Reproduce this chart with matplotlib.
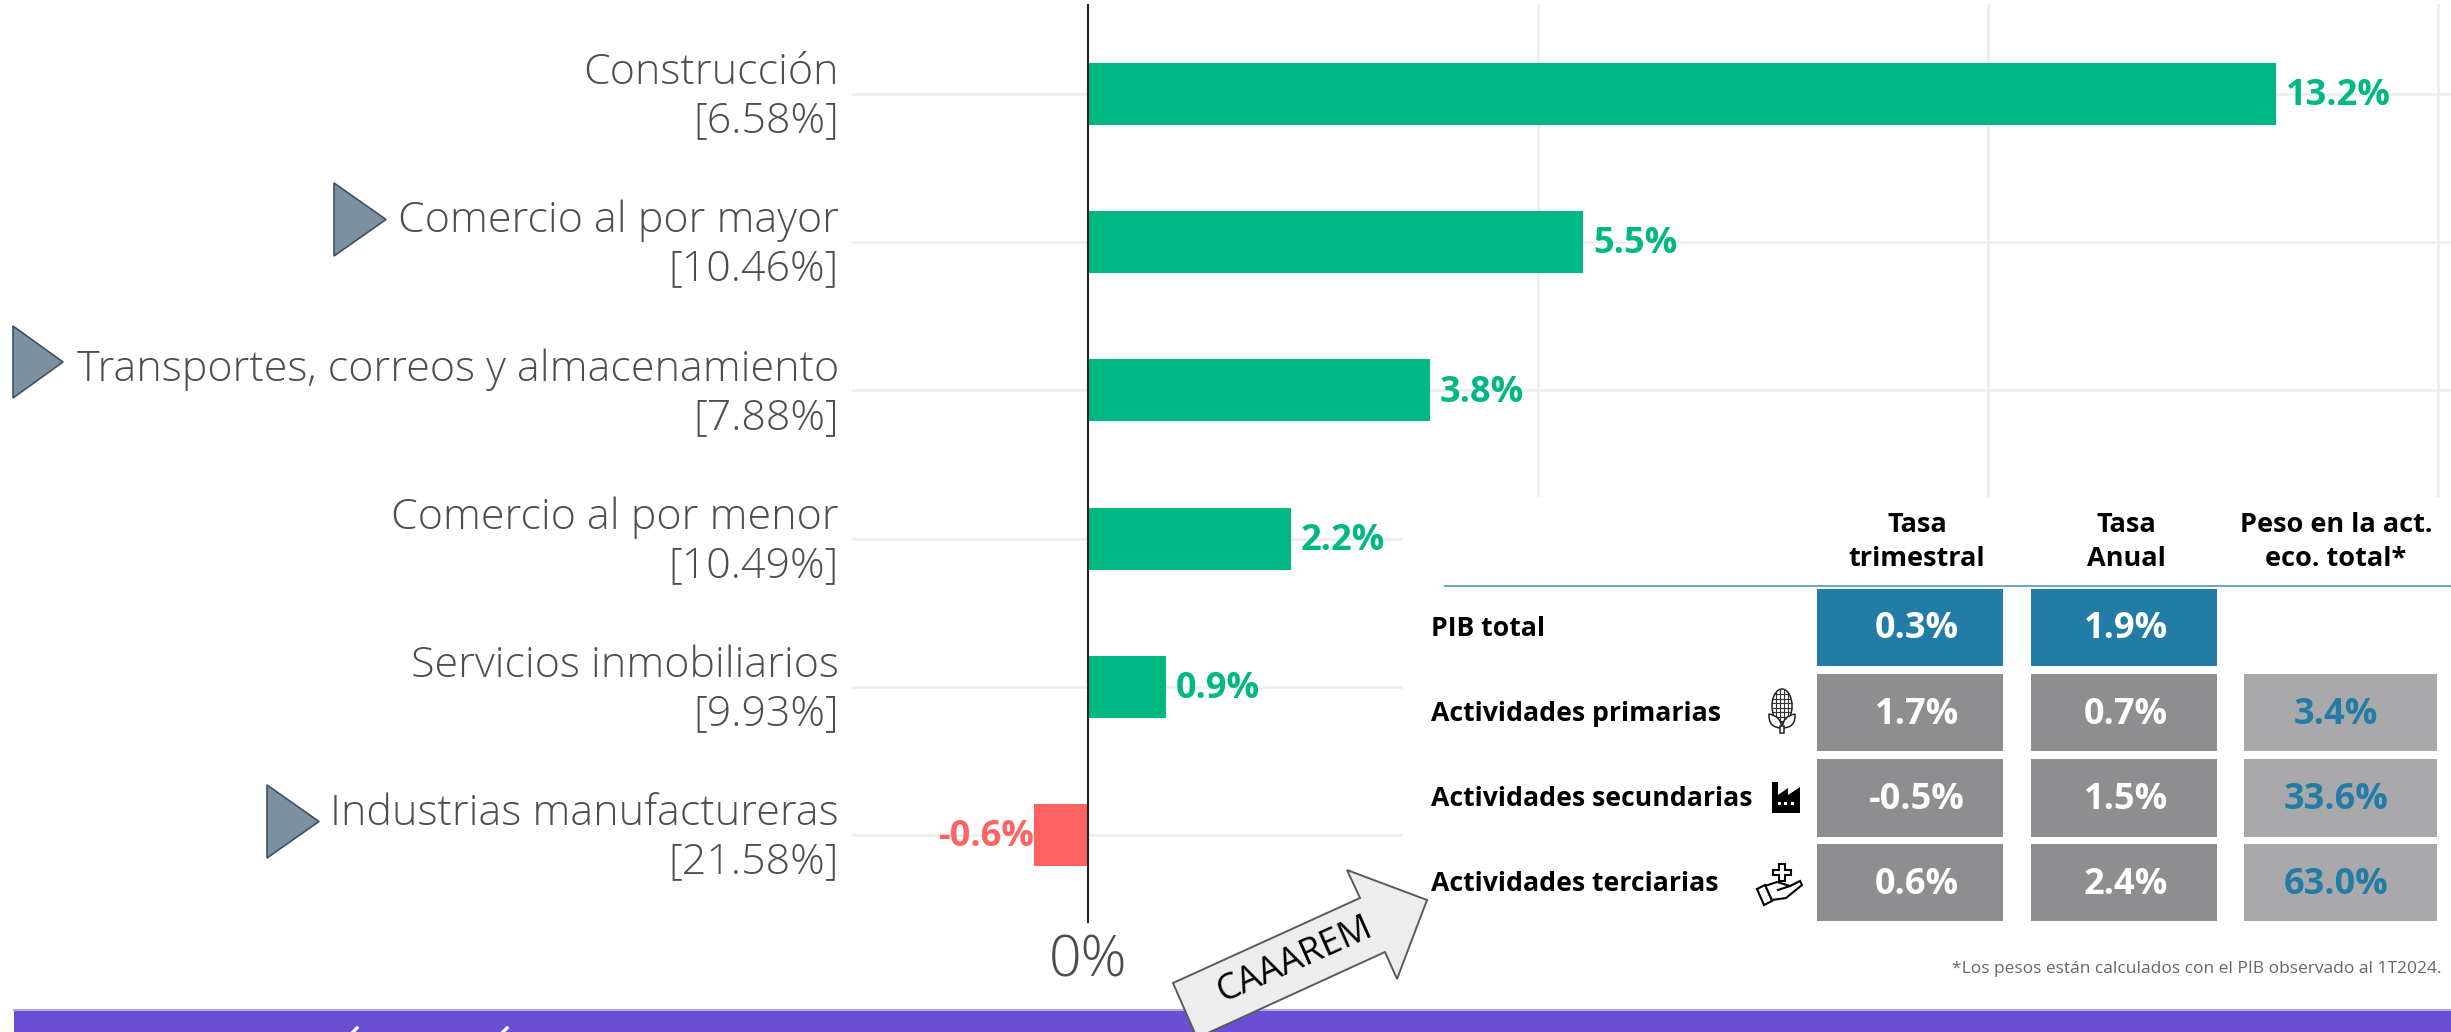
import numpy as np
import matplotlib
matplotlib.use('Agg')
import matplotlib.pyplot as plt
from matplotlib.patches import Rectangle, Polygon, Ellipse, PathPatch
from matplotlib.path import Path

W, H = 2451, 1032

sectors = ['Construcción', 'Comercio al por mayor', 'Transportes, correos y almacenamiento',
           'Comercio al por menor', 'Servicios inmobiliarios', 'Industrias manufactureras']
weights = ['6.58', '10.46', '7.88', '10.49', '9.93', '21.58']
growth = [13.2, 5.5, 3.8, 2.25, 0.87, -0.6]

table_rows = ['PIB total', 'Actividades primarias', 'Actividades secundarias', 'Actividades terciarias']
table_heads = ['Tasa\ntrimestral', 'Tasa\nAnual', 'Peso en la act.\neco. total*']
tasa_trim = ['0.3%', '1.7%', '-0.5%', '0.6%']
tasa_anual = ['1.9%', '0.7%', '1.5%', '2.4%']
peso = ['', '3.4%', '33.6%', '63.0%']
note = '*Los pesos están calculados con el PIB observado al 1T2024.'

GREEN, RED, BLUE = '#00B884', '#FF6361', '#227CA6'
GRAY, LGRAY = '#8E8E90', '#A9A9AB'
TXT = '#4D4D4D'
GRID = '#EDEDED'
LAB = 'Open Sans'
TAB = 'Open Sans'

fig = plt.figure(figsize=(W/100, H/100), dpi=100, facecolor='white')
bg = fig.add_axes([0, 0, 1, 1], zorder=0)
bg.set_xlim(0, W); bg.set_ylim(H, 0); bg.axis('off')

# chart axes: zero at px 1088, 90 px per unit, sectors 148.2 px apart, first at px 94
x_l, x_r, y_t, y_b = 852, W, 4, 923
ax = fig.add_axes([x_l/W, 1-y_b/H, (x_r-x_l)/W, (y_b-y_t)/H], facecolor='none', zorder=1)
ax.set_xlim((x_l-1088)/90, (x_r-1088)/90)
ax.set_ylim((y_b-94)/148.2, (y_t-94)/148.2)
ax.axis('off')
for gx in (5, 10, 15):
    ax.axvline(gx, color=GRID, lw=1.8, zorder=1)
for i in range(6):
    ax.axhline(i, color=GRID, lw=1.8, zorder=1)
ax.barh(range(6), growth, height=62/148.2, color=[GREEN if v > 0 else RED for v in growth], zorder=2)
ax.axvline(0, color='#222222', lw=1.5, zorder=3)
for i, v in enumerate(growth):
    c = GREEN if v > 0 else RED
    ax.text(v + (0.11 if v > 0 else 0.01), i + 0.015, f'{v:.1f}%', color=c, fontsize=26, fontweight='bold',
            family=TAB, va='center', ha='left' if v > 0 else 'right', zorder=4)

for i, (s, w) in enumerate(zip(sectors, weights)):
    yc = 94 + 148.2*i
    bg.text(839, yc-21, s, ha='right', va='center', fontsize=31, color=TXT, family=LAB, fontweight='light')
    bg.text(839, yc+27, f'[{w}%]', ha='right', va='center', fontsize=31, color=TXT, family=LAB, fontweight='light')

for (x0, x1, y0, y1) in [(334, 386, 183, 256), (13, 63, 326, 398), (267, 319, 785, 858)]:
    bg.add_patch(Polygon([(x0, y0), (x1, (y0+y1)/2), (x0, y1)], closed=True, fc='#7B919F', ec='#3D5068', lw=1.2))

bg.text(1088, 962, '0%', ha='center', va='center', fontsize=41, color=TXT, family=LAB, fontweight='light')

# overlay axes for table, footer, arrow
ov = fig.add_axes([0, 0, 1, 1], zorder=2, facecolor='none')
ov.set_xlim(0, W); ov.set_ylim(H, 0); ov.axis('off')

ov.add_patch(Rectangle((1403, 497), W-1403, 512, fc='white', ec='none', zorder=1))
ov.add_patch(Rectangle((14, 1009), W-14, 30, fc='#6B4FD3', ec='none', zorder=2))
ov.plot([14, W], [1009.5, 1009.5], color='#B7A9EA', lw=1.4, zorder=2)
for ax_x in (355, 505):
    ov.plot([ax_x-3, ax_x+2], [1033, 1028], color='white', lw=2.4, zorder=3)

# table
ov.plot([1445, W], [586, 586], color='#5E9DB8', lw=1.3, zorder=3)
col_l = [1817, 2031, 2244]
col_r = [2003, 2217, 2437]
col_c = [1917, 2126, 2336]
row_t = [589, 674, 759, 844]
row_b = [666, 751, 837, 921]
for c, h in zip(col_c, table_heads):
    ov.text(c, 542, h, ha='center', va='center', fontsize=19.5, fontweight='bold', family=TAB,
            color='black', linespacing=1.35, zorder=4)
cols = [tasa_trim, tasa_anual, peso]
for r, name in enumerate(table_rows):
    yc = (row_t[r] + row_b[r]) / 2
    ov.text(1431, yc+1.5, name, ha='left', va='center', fontsize=19.2, fontweight='bold', family=TAB, color='black', zorder=4)
    for j, col in enumerate(cols):
        val = col[r]
        if not val:
            continue
        fc = BLUE if r == 0 else (LGRAY if j == 2 else GRAY)
        ov.add_patch(Rectangle((col_l[j], row_t[r]), col_r[j]-col_l[j], row_b[r]-row_t[r], fc=fc, ec='none', zorder=3))
        ov.text(col_c[j], yc+2, val, ha='center', va='center', fontsize=26, fontweight='bold', family=TAB,
                color=BLUE if j == 2 else 'white', zorder=4)
ov.text(2442, 969, note, ha='right', va='center', fontsize=12.5, color='#666666', family=LAB, zorder=4)

# arrow
ov.add_patch(Polygon([(1173, 983), (1360, 898), (1347, 870), (1427, 900), (1397, 979), (1385, 952), (1197, 1038)],
                     closed=True, fc='#EDEDED', ec='#5A5A5A', lw=1.4, zorder=5, joinstyle='miter'))
ov.text(1295, 960, 'CAAAREM', rotation=24, ha='center', va='center', rotation_mode='anchor',
        fontsize=26, family=TAB, color='black', zorder=6)

# icons
# corn
cx = 1782
ov.add_patch(Ellipse((cx, 706), 20, 34, fc='white', ec='#222222', lw=1.1, zorder=4))
for yy in np.arange(694, 722, 4.5):
    half = 10*np.sqrt(max(0, 1-((706-yy)/17)**2))
    ov.plot([cx-half, cx+half], [yy, yy], color='#333333', lw=0.8, zorder=4)
for xx in np.arange(cx-6, cx+7, 4):
    dy = 17*np.sqrt(max(0, 1-((xx-cx)/10)**2))
    ov.plot([xx, xx], [706-dy, 706+dy], color='#333333', lw=0.8, zorder=4)
for sgn in (-1, 1):
    leaf = Path([(cx, 728), (cx+sgn*14, 728), (cx+sgn*13, 714), (cx+sgn*1, 716), (cx, 728)],
                [Path.MOVETO, Path.CURVE3, Path.CURVE3, Path.CURVE3, Path.CURVE3])
    ov.add_patch(PathPatch(leaf, fc='white', ec='#222222', lw=1.1, zorder=4))
ov.add_patch(Rectangle((cx-2, 726), 4, 7, fc='white', ec='#222222', lw=1.1, zorder=4))
# factory
ov.add_patch(Polygon([(1772, 813), (1772, 782), (1778, 782), (1778, 795), (1788, 788), (1788, 795), (1800, 787), (1800, 813)],
                     closed=True, fc='black', ec='none', zorder=4))
for xx in (1779, 1785, 1792):
    ov.add_patch(Rectangle((xx-1.5, 802), 3, 3, fc='white', ec='none', zorder=5))
# hand with plus
plus = [(1779, 864), (1785, 864), (1785, 870), (1791, 870), (1791, 875), (1785, 875), (1785, 881), (1779, 881),
        (1779, 875), (1773, 875), (1773, 870), (1779, 870)]
ov.add_patch(Polygon(plus, closed=True, fc='white', ec='black', lw=1.5, zorder=4))
ov.add_patch(Polygon([(1765, 886), (1777, 882), (1790, 886), (1800, 881), (1802, 885), (1786, 898), (1772, 900)],
                     closed=True, fc='white', ec='black', lw=1.5, zorder=4))
ov.plot([1778, 1790], [890, 886], color='black', lw=1.5, zorder=5)
ov.add_patch(Polygon([(1757, 889), (1765, 885), (1772, 901), (1764, 905)], closed=True, fc='white', ec='black', lw=1.5, zorder=5))

fig.savefig('out.png', dpi=100, facecolor='white')
